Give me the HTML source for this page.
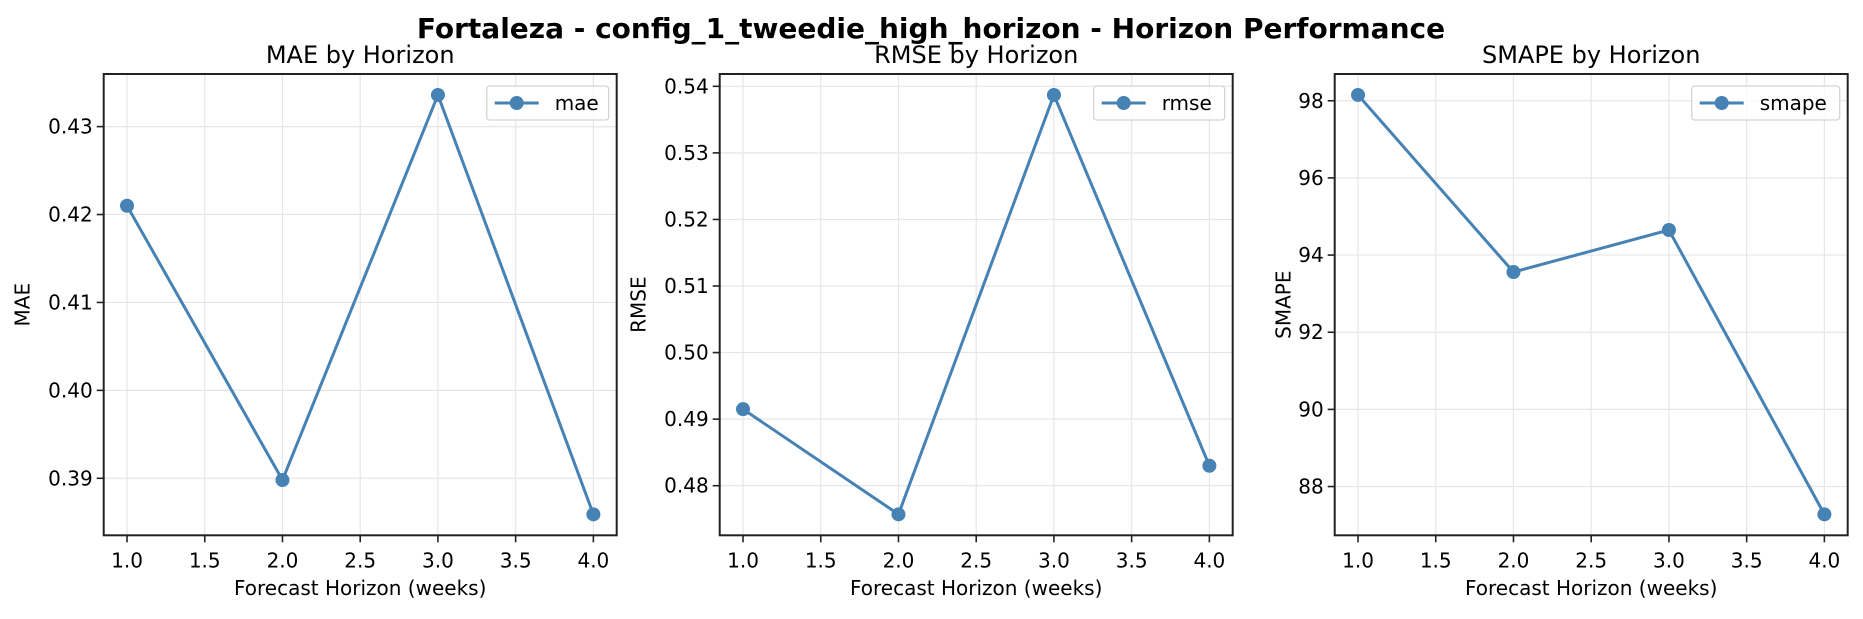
<!DOCTYPE html>
<html><head><meta charset="utf-8"><style>
body{margin:0;background:#fff}
svg text{font-family:"DejaVu Sans","Liberation Sans",sans-serif;fill:#000}
</style></head><body>
<svg id="fig" width="1863" height="614" xmlns="http://www.w3.org/2000/svg">
<rect width="1863" height="614" fill="#fff"/>
<text x="931" y="38" font-size="28" font-weight="bold" text-anchor="middle">Fortaleza - config_1_tweedie_high_horizon - Horizon Performance</text>
</svg>
<script>
const horizons = [1, 2, 3, 4];
const maeValues = [0.4210, 0.3898, 0.4336, 0.3859];
const rmseValues = [0.4915, 0.4757, 0.5387, 0.4830];
const smapeValues = [98.15, 93.56, 94.65, 87.28];
const xTicks = [1.0, 1.5, 2.0, 2.5, 3.0, 3.5, 4.0];
const maeTicks = [0.39, 0.40, 0.41, 0.42, 0.43];
const rmseTicks = [0.48, 0.49, 0.50, 0.51, 0.52, 0.53, 0.54];
const smapeTicks = [88, 90, 92, 94, 96, 98];

const NS = "http://www.w3.org/2000/svg";
const svg = document.getElementById('fig');
function mk(tag, attrs, parent){const e=document.createElementNS(NS,tag);for(const k in attrs)e.setAttribute(k,attrs[k]);(parent||svg).appendChild(e);return e;}

const panels = [
  {left:103.7,key:'mae',title:'MAE by Horizon',ylabel:'MAE',vals:maeValues,ticks:maeTicks,dec:2,legW:122},
  {left:719.7,key:'rmse',title:'RMSE by Horizon',ylabel:'RMSE',vals:rmseValues,ticks:rmseTicks,dec:2,legW:131},
  {left:1334.7,key:'smape',title:'SMAPE by Horizon',ylabel:'SMAPE',vals:smapeValues,ticks:smapeTicks,dec:0,legW:148}
];
const W=513, TOP=74, BOT=535.3, H=BOT-TOP;

panels.forEach(p=>{
  const g=mk('g',{});
  
  
  const xmin=Math.min(...horizons), xmax=Math.max(...horizons), xm=(xmax-xmin)*0.05;
  const ymin=Math.min(...p.vals), ymax=Math.max(...p.vals), ym=(ymax-ymin)*0.05;
  const X=v=>p.left+(v-(xmin-xm))/((xmax+xm)-(xmin-xm))*W;
  const Y=v=>BOT-(v-(ymin-ym))/((ymax+ym)-(ymin-ym))*H;
  xTicks.forEach(t=>{
    const x=X(t);
    const gl=mk('line',{x1:x,x2:x,y1:TOP,y2:BOT,stroke:'#e6e6e6','stroke-width':1.2},g);
    
    
    mk('line',{x1:x,x2:x,y1:BOT,y2:BOT+7,stroke:'#222','stroke-width':1.6},g);
    const tl=mk('text',{x:x,y:BOT+32,'font-size':20,'text-anchor':'middle'},g);
    tl.textContent=t.toFixed(1);
    
    
  });
  p.ticks.forEach(t=>{
    const y=Y(t);
    if(y<TOP||y>BOT) return;
    const gl=mk('line',{x1:p.left,x2:p.left+W,y1:y,y2:y,stroke:'#e6e6e6','stroke-width':1.2},g);
    
    
    mk('line',{x1:p.left-7,x2:p.left,y1:y,y2:y,stroke:'#222','stroke-width':1.6},g);
    const tl=mk('text',{x:p.left-11,y:y+7,'font-size':20,'text-anchor':'end'},g);
    tl.textContent=t.toFixed(p.dec);
    
    
  });
  const pts=horizons.map((h,i)=>X(h)+','+Y(p.vals[i])).join(' ');
  const line=mk('polyline',{points:pts,fill:'none',stroke:'#4682b4','stroke-width':3},g);
  
  
  horizons.forEach((h,i)=>{
    const c=mk('circle',{cx:X(h),cy:Y(p.vals[i]),r:7,fill:'#4682b4'},g);
    
    
  });
  const fr=mk('rect',{x:p.left,y:TOP,width:W,height:H,fill:'none',stroke:'#222','stroke-width':2},g);
  
  
  const tt=mk('text',{x:p.left+W/2,y:63,'font-size':24,'text-anchor':'middle'},g);
  tt.textContent=p.title;
  
  
  const xl=mk('text',{x:p.left+W/2,y:595,'font-size':20,'text-anchor':'middle'},g);
  xl.textContent='Forecast Horizon (weeks)';
  
  
  const ylx=p.left-(p.dec===0?44:74);
  const yl=mk('text',{x:ylx,y:(TOP+BOT)/2,'font-size':20,'text-anchor':'middle',transform:`rotate(-90 ${ylx} ${(TOP+BOT)/2})`},g);
  yl.textContent=p.ylabel;
  
  
  const lx=p.left+W-8-p.legW, ly=86;
  const lg=mk('g',{},g);
  
  
  mk('rect',{x:lx,y:ly,width:p.legW,height:34,rx:3,fill:'#fff','fill-opacity':0.8,stroke:'#d5d5d5','stroke-width':1.3},lg);
  mk('line',{x1:lx+8,x2:lx+52,y1:ly+17,y2:ly+17,stroke:'#4682b4','stroke-width':3},lg);
  mk('circle',{cx:lx+30,cy:ly+17,r:7,fill:'#4682b4'},lg);
  const lt=mk('text',{x:lx+68,y:ly+24,'font-size':20},lg);
  lt.textContent=p.key;
  
  
});
</script>
</body></html>
